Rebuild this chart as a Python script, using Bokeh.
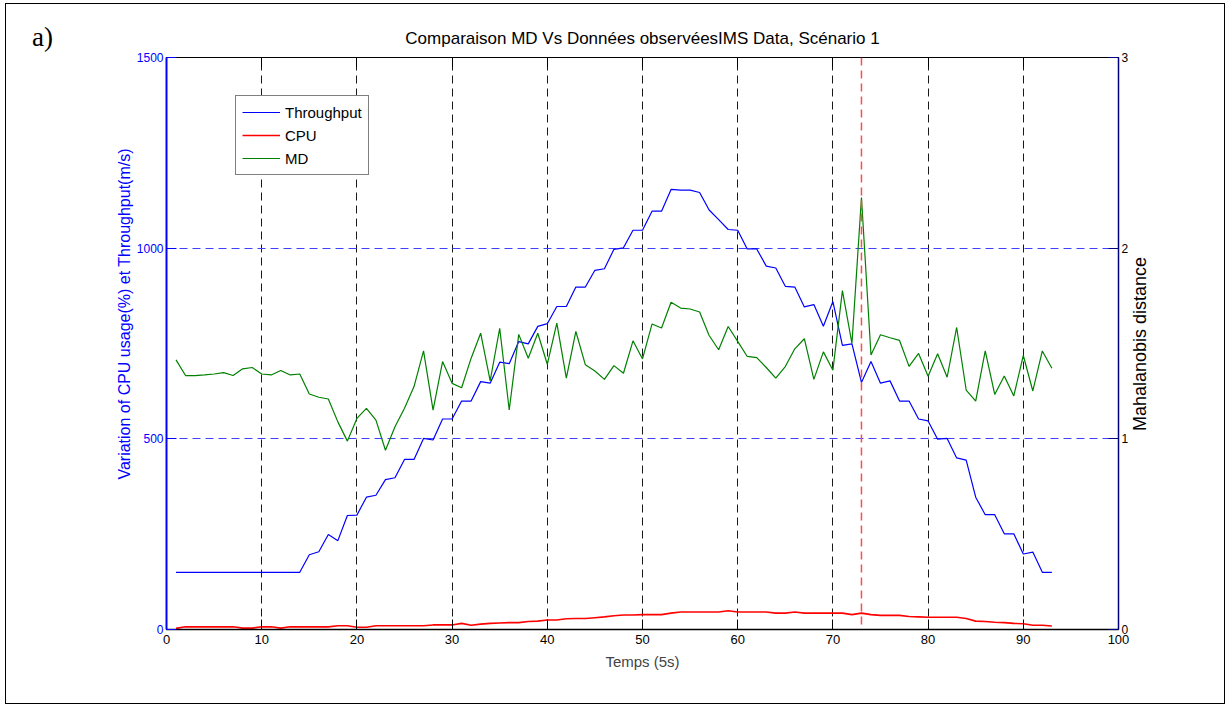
from bokeh.plotting import figure
from bokeh.models import LinearAxis, Range1d, Span, FixedTicker, Div, Legend, LegendItem
from bokeh.layouts import column
from bokeh.embed import file_html
from bokeh.resources import INLINE

# ---------------- data ----------------
time = list(range(1, 94))

throughput = [150, 150, 150, 150, 150, 150, 150, 150, 150, 150,
              150, 150, 150, 150, 196, 204, 249, 233, 299, 300,
              347, 352, 393, 398, 446, 446, 501, 497, 552, 552,
              599, 599, 650, 646, 701, 697, 755, 749, 795, 802,
              847, 847, 898, 898, 942, 946, 997, 1001, 1047, 1047,
              1097, 1097, 1154, 1152, 1152, 1146, 1100, 1075, 1049, 1047,
              998, 998, 953, 948, 900, 898, 846, 852, 795, 860,
              745, 749, 648, 703, 646, 652, 599, 599, 552, 547,
              499, 501, 450, 444, 347, 301, 301, 251, 251, 198,
              203, 150, 150]

cpu = [3, 7, 7, 7, 7, 7, 7, 3.5, 3.5, 7,
       7, 3.5, 7, 7, 7, 7, 7, 10, 10, 6,
       6, 10, 10, 10, 10, 10, 10, 12, 12, 12,
       16, 11, 14, 16, 17, 18, 18, 21, 22, 25,
       25, 28, 29, 29, 31, 33, 36, 38, 38, 39,
       39, 39, 43, 46, 46, 46, 46, 46, 49, 46,
       46, 46, 46, 43, 43, 46, 43, 43, 43, 43,
       43, 39, 43, 39, 37, 37, 37, 34, 33, 32,
       32, 32, 32, 29, 22, 21, 19, 18, 16, 15,
       11, 11, 9]

md = [1.414, 1.332, 1.332, 1.335, 1.340, 1.347, 1.332, 1.367, 1.374, 1.340,
      1.335, 1.358, 1.335, 1.340, 1.235, 1.218, 1.209, 1.089, 0.988, 1.107,
      1.160, 1.098, 0.940, 1.063, 1.160, 1.274, 1.461, 1.151, 1.405, 1.291,
      1.268, 1.423, 1.554, 1.304, 1.580, 1.151, 1.548, 1.423, 1.554, 1.391,
      1.607, 1.318, 1.563, 1.388, 1.356, 1.312, 1.384, 1.344, 1.514, 1.419,
      1.602, 1.581, 1.716, 1.686, 1.681, 1.665, 1.542, 1.467, 1.589, 1.511,
      1.432, 1.426, 1.374, 1.318, 1.379, 1.472, 1.525, 1.312, 1.456, 1.360,
      1.777, 1.500, 2.265, 1.440, 1.546, 1.530, 1.516, 1.380, 1.448, 1.328,
      1.446, 1.323, 1.584, 1.256, 1.198, 1.461, 1.233, 1.330, 1.225, 1.437,
      1.251, 1.461, 1.370]

anomaly_time = 73
x_ticks = [0, 10, 20, 30, 40, 50, 60, 70, 80, 90, 100]
left_ticks = [0, 500, 1000, 1500]
right_ticks = [0, 1, 2, 3]
left_grid = left_ticks[1:-1]

title_text = "Comparaison MD Vs Données observéesIMS Data, Scénario 1"
left_label = "Variation of CPU usage(%) et Throughput(m/s)"
right_label = "Mahalanobis distance"
x_label = "Temps (5s)"
FONT = "Liberation Sans"

# ---------------- figure ----------------
p = figure(frame_width=950, frame_height=570,
           x_range=Range1d(0, 100), y_range=Range1d(0, 1500),
           min_border_left=160, min_border_right=108,
           min_border_top=53, min_border_bottom=76,
           output_backend="svg", toolbar_location=None,
           title=title_text,
           background_fill_color="white", border_fill_color="white")
p.styles = {"border": "1px solid black", "margin-left": "5px", "margin-top": "3px"}
p.outline_line_color = "black"
p.outline_line_width = 1

p.title.align = "center"
p.title.text_font = FONT
p.title.text_font_size = "17px"
p.title.text_font_style = "normal"
p.title.text_color = "black"
p.title.standoff = 20

# bottom axis
xa = p.xaxis[0]
xa.ticker = FixedTicker(ticks=x_ticks)
xa.axis_line_color = "black"
xa.axis_line_width = 1.5
xa.major_tick_in = 10
xa.major_tick_out = 0
xa.major_tick_line_color = "black"
xa.minor_tick_line_color = None
xa.major_label_text_font = FONT
xa.major_label_text_font_size = "13px"
xa.major_label_text_color = "black"
xa.major_label_standoff = 5
xa.axis_label = x_label
xa.axis_label_text_font = FONT
xa.axis_label_text_font_size = "15px"
xa.axis_label_text_font_style = "normal"
xa.axis_label_standoff = 6

# left axis (its title is drawn rotated below, slightly above centre as in the original)
ya = p.yaxis[0]
ya.ticker = FixedTicker(ticks=left_ticks)
ya.axis_line_color = "#0000ff"
ya.axis_line_width = 2
ya.major_tick_in = 10
ya.major_tick_out = 0
ya.major_tick_line_color = "#0000ff"
ya.minor_tick_line_color = None
ya.major_label_text_font = FONT
ya.major_label_text_font_size = "12px"
ya.major_label_text_color = "#0000ff"
ya.major_label_standoff = 3

# right axis (Mahalanobis distance)
p.extra_y_ranges = {"md": Range1d(0, 3)}
ra = LinearAxis(y_range_name="md", ticker=FixedTicker(ticks=right_ticks))
ra.axis_line_color = "#000080"
ra.axis_line_width = 1.5
ra.major_tick_in = 10
ra.major_tick_out = 0
ra.major_tick_line_color = "#000080"
ra.minor_tick_line_color = None
ra.major_label_text_font = FONT
ra.major_label_text_font_size = "12px"
ra.major_label_text_color = "black"
ra.major_label_standoff = 3
p.add_layout(ra, "right")

# top axis (ticks only)
ta = LinearAxis(ticker=FixedTicker(ticks=x_ticks),
                major_label_overrides={t: "" for t in x_ticks})
ta.axis_line_color = "black"
ta.major_tick_in = 10
ta.major_tick_out = 0
ta.minor_tick_line_color = None
ta.major_label_standoff = 0
ta.major_label_text_font_size = "1px"
p.add_layout(ta, "above")

# grids: vertical black dashed; horizontal blue dashed at inner left ticks
p.xgrid.ticker = FixedTicker(ticks=x_ticks)
p.xgrid.grid_line_color = "#1a1a1a"
p.xgrid.grid_line_dash = "8 5"
p.xgrid.grid_line_width = 1
p.ygrid.visible = False
p.hspan(y=left_grid, line_color="#4040ff", line_dash="8 5", line_width=1)

# series
r_thr = p.line(time, throughput, line_color="#0000ff", line_width=1.2)
r_cpu = p.line(time, cpu, line_color="#ff0000", line_width=1.6)
r_md = p.line(time, md, line_color="#008000", line_width=1.2, y_range_name="md")

# anomaly marker
p.add_layout(Span(location=anomaly_time, dimension="height", line_color="#ff4d4d",
                  line_dash="8 5", line_width=1.5))

legend = Legend(items=[LegendItem(label="Throughput", renderers=[r_thr]),
                       LegendItem(label="CPU", renderers=[r_cpu]),
                       LegendItem(label="MD", renderers=[r_md])],
                location=(69, 454))
legend.border_line_color = "black"
legend.border_line_width = 1.2
legend.background_fill_color = "white"
legend.background_fill_alpha = 1
legend.label_text_font = FONT
legend.label_text_font_size = "15px"
legend.label_text_color = "black"
legend.glyph_width = 38
legend.glyph_height = 20
legend.label_height = 20
legend.label_standoff = 5
legend.spacing = 3
legend.padding = 6
legend.margin = 0
p.add_layout(legend)

# panel tag and rotated axis titles
tag = Div(text="a)", width=40, height=34,
          styles={"position": "absolute", "left": "27px", "top": "13px",
                  "font-family": "Liberation Serif", "font-size": "27px",
                  "color": "black", "z-index": "10"})
llab = Div(text=left_label, width=360, height=20,
           styles={"position": "absolute", "left": "-60px", "top": "299px",
                   "transform": "rotate(-90deg)", "text-align": "center",
                   "white-space": "nowrap", "line-height": "20px",
                   "font-family": FONT, "font-size": "16px",
                   "color": "#0000ff", "z-index": "10"})
rlab = Div(text=right_label, width=200, height=20,
           styles={"position": "absolute", "left": "1035px", "top": "329px",
                   "transform": "rotate(-90deg)", "text-align": "center",
                   "white-space": "nowrap", "line-height": "20px",
                   "font-family": FONT, "font-size": "18px",
                   "color": "black", "z-index": "10"})

layout = column(p, tag, llab, rlab)
open("out.html", "w").write(file_html(layout, INLINE))
